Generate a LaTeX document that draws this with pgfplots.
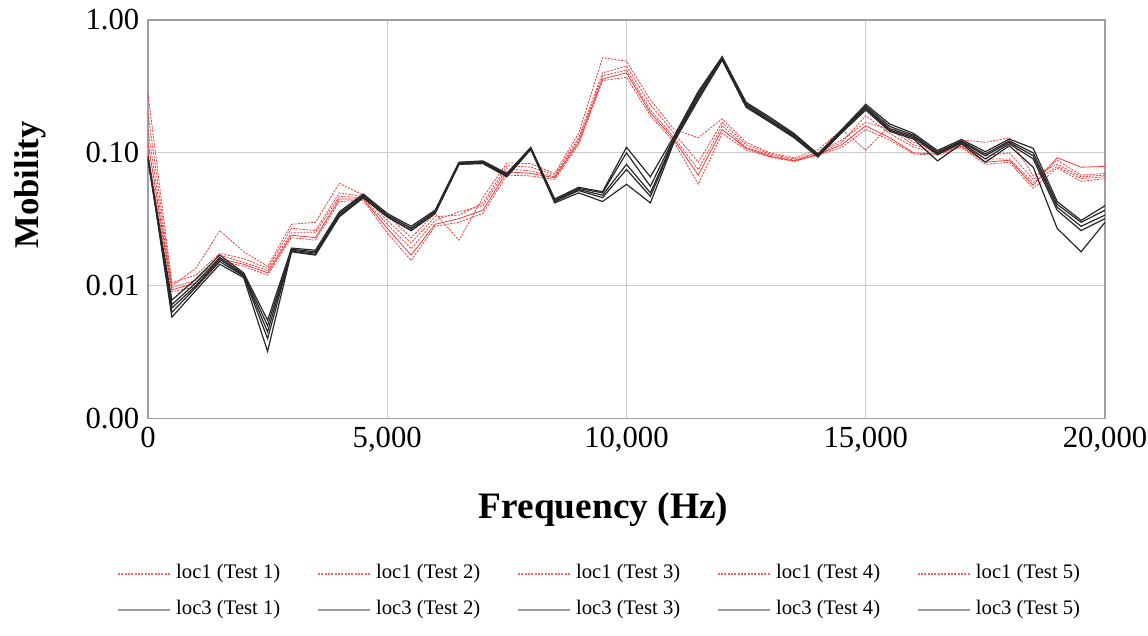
\documentclass[border=0pt]{standalone}
\usepackage{fontspec}
\setmainfont{Liberation Serif}
\usepackage{pgfplots}
\usepackage{pgfplotstable}
\pgfplotsset{compat=1.18}
\definecolor{lred}{RGB}{238,60,60}
\definecolor{lblack}{RGB}{40,40,40}
\pgfplotsset{
  myred/.style={draw=lred, line width=0.6pt, dash pattern=on 1.6pt off 0.9pt},
  myredsolid/.style={draw=lred, line width=0.6pt, solid},
  myblk/.style={draw=lblack, line width=0.9pt, solid},
}
\tikzset{
  lgred/.style={draw=lred!80, line width=1.3pt, dash pattern=on 1.5pt off 1pt},
  lgblk/.style={draw=gray!80, line width=1.3pt},
}
\newcommand{\legitem}[4]{%
  \draw[#3] ([xshift=#1,yshift=#2]bl) -- ++(39pt,0pt);
  \node[anchor=west, inner sep=0pt, font=\fontsize{15.5}{17}\selectfont] at ([xshift=#1+43.5pt,yshift=#2]bl) {#4};}

\pgfplotstableread{
f a1 a2 a3 a4 a5 b1 b2 b3 b4 b5
0 0.28 0.20 0.15 0.12 0.10 0.092 0.090 0.088 0.095 0.093
500 0.0105 0.0100 0.0097 0.0093 0.0090 0.0078 0.0072 0.0068 0.0063 0.0058
1000 0.0120 0.0135 0.011 0.0105 0.0098 0.0112 0.0105 0.0100 0.0097 0.0092
1500 0.0175 0.026 0.017 0.016 0.0155 0.0170 0.0163 0.0158 0.0152 0.0145
2000 0.016 0.018 0.015 0.0145 0.014 0.0125 0.0122 0.0120 0.0118 0.0115
2500 0.0135 0.014 0.013 0.0125 0.012 0.0055 0.0050 0.0045 0.0040 0.0032
3000 0.027 0.029 0.025 0.024 0.023 0.0192 0.0188 0.0185 0.0182 0.0180
3500 0.026 0.030 0.025 0.023 0.022 0.0185 0.0180 0.0176 0.0172 0.0170
4000 0.050 0.059 0.047 0.045 0.043 0.036 0.035 0.034 0.0335 0.033
4500 0.047 0.048 0.046 0.045 0.044 0.049 0.048 0.047 0.046 0.046
5000 0.031 0.034 0.029 0.027 0.025 0.035 0.034 0.034 0.033 0.033
5500 0.021 0.023 0.019 0.017 0.0155 0.028 0.027 0.027 0.026 0.026
6000 0.033 0.035 0.031 0.029 0.028 0.037 0.036 0.036 0.035 0.035
6500 0.034 0.022 0.036 0.032 0.030 0.085 0.084 0.083 0.082 0.082
7000 0.042 0.046 0.040 0.037 0.035 0.087 0.086 0.085 0.084 0.083
7500 0.080 0.084 0.076 0.072 0.068 0.070 0.069 0.068 0.067 0.066
8000 0.078 0.083 0.073 0.070 0.067 0.110 0.109 0.108 0.107 0.106
8500 0.068 0.070 0.066 0.065 0.063 0.045 0.044 0.043 0.043 0.042
9000 0.13 0.14 0.125 0.12 0.115 0.055 0.054 0.053 0.052 0.050
9500 0.40 0.52 0.38 0.36 0.35 0.051 0.050 0.048 0.046 0.043
10000 0.45 0.49 0.42 0.40 0.37 0.110 0.100 0.082 0.075 0.058
10500 0.23 0.25 0.21 0.20 0.19 0.066 0.056 0.050 0.047 0.042
11000 0.14 0.15 0.13 0.125 0.12 0.135 0.132 0.128 0.125 0.122
11500 0.085 0.13 0.075 0.068 0.058 0.29 0.28 0.27 0.26 0.25
12000 0.17 0.18 0.16 0.15 0.14 0.53 0.52 0.51 0.50 0.50
12500 0.115 0.12 0.11 0.108 0.105 0.24 0.235 0.23 0.225 0.22
13000 0.098 0.10 0.096 0.094 0.093 0.185 0.18 0.175 0.172 0.17
13500 0.090 0.092 0.088 0.087 0.086 0.14 0.137 0.135 0.132 0.13
14000 0.10 0.105 0.098 0.097 0.096 0.098 0.096 0.095 0.094 0.093
14500 0.125 0.15 0.12 0.115 0.11 0.150 0.148 0.146 0.144 0.142
15000 0.17 0.105 0.19 0.16 0.15 0.232 0.225 0.22 0.215 0.21
15500 0.15 0.16 0.14 0.13 0.125 0.165 0.158 0.152 0.148 0.145
16000 0.115 0.12 0.11 0.10 0.098 0.140 0.136 0.133 0.130 0.127
16500 0.103 0.105 0.10 0.098 0.096 0.104 0.101 0.099 0.097 0.087
17000 0.12 0.125 0.115 0.112 0.11 0.126 0.123 0.121 0.119 0.117
17500 0.095 0.12 0.09 0.085 0.082 0.102 0.098 0.095 0.090 0.085
18000 0.10 0.13 0.09 0.088 0.085 0.127 0.123 0.120 0.117 0.113
18500 0.063 0.067 0.060 0.057 0.054 0.108 0.100 0.095 0.090 0.078
19000 0.088 0.082 0.079 0.092 0.077 0.043 0.041 0.039 0.037 0.027
19500 0.068 0.066 0.064 0.078 0.061 0.031 0.030 0.028 0.026 0.018
20000 0.070 0.068 0.066 0.079 0.064 0.040 0.037 0.034 0.032 0.030
}\data

\begin{document}
\begin{tikzpicture}
\begin{axis}[
  scale only axis, width=718pt, height=299pt,
  xmin=0, xmax=20000, ymin=0.001, ymax=1, ymode=log,
  xtick={0,5000,10000,15000,20000},
  xticklabels={0,{5,000},{10,000},{15,000},{20,000}},
  scaled x ticks=false,
  ytick={0.001,0.01,0.1,1},
  yticklabels={0.00,0.01,0.10,1.00},
  minor ytick={}, minor xtick={},
  grid=major,
  major grid style={draw=gray!40, line width=0.9pt},
  axis line style={draw=gray!75, line width=0.9pt},
  tick style={draw=none},
  tick label style={font=\fontsize{23}{25}\selectfont},
  xticklabel style={yshift=-3pt},
  yticklabel style={xshift=-3pt},
  xlabel={\bfseries Frequency (Hz)},
  xlabel style={font=\fontsize{28}{30}\selectfont, at={(axis description cs:0.476,-0.2274)}, anchor=center},
  ylabel={\bfseries Mobility},
  ylabel style={font=\fontsize{26}{28}\selectfont, at={(axis description cs:-0.1233,0.586)}, anchor=center},
]
\addplot[myred] table[x=f,y=a1] {\data};
\addplot[myred] table[x=f,y=a2] {\data};
\addplot[myred] table[x=f,y=a3] {\data};
\addplot[myredsolid] table[x=f,y=a4] {\data};
\addplot[myred] table[x=f,y=a5] {\data};
\addplot[myblk] table[x=f,y=b1] {\data};
\addplot[myblk] table[x=f,y=b2] {\data};
\addplot[myblk] table[x=f,y=b3] {\data};
\addplot[myblk] table[x=f,y=b4] {\data};
\addplot[myblk] table[x=f,y=b5] {\data};
\coordinate (bl) at (rel axis cs:0,0);
\coordinate (tr) at (rel axis cs:1,1);
\end{axis}
\legitem{-22.5pt}{-116.5pt}{lgred}{loc1 (Test 1)}
\legitem{127.5pt}{-116.5pt}{lgred}{loc1 (Test 2)}
\legitem{277.5pt}{-116.5pt}{lgred}{loc1 (Test 3)}
\legitem{427.5pt}{-116.5pt}{lgred}{loc1 (Test 4)}
\legitem{577.5pt}{-116.5pt}{lgred}{loc1 (Test 5)}
\legitem{-22.5pt}{-143.5pt}{lgblk}{loc3 (Test 1)}
\legitem{127.5pt}{-143.5pt}{lgblk}{loc3 (Test 2)}
\legitem{277.5pt}{-143.5pt}{lgblk}{loc3 (Test 3)}
\legitem{427.5pt}{-143.5pt}{lgblk}{loc3 (Test 4)}
\legitem{577.5pt}{-143.5pt}{lgblk}{loc3 (Test 5)}
\pgfresetboundingbox
\path ([xshift=-111pt,yshift=-162.75pt]bl) rectangle ([xshift=32.25pt,yshift=15pt]tr);
\end{tikzpicture}
\end{document}
